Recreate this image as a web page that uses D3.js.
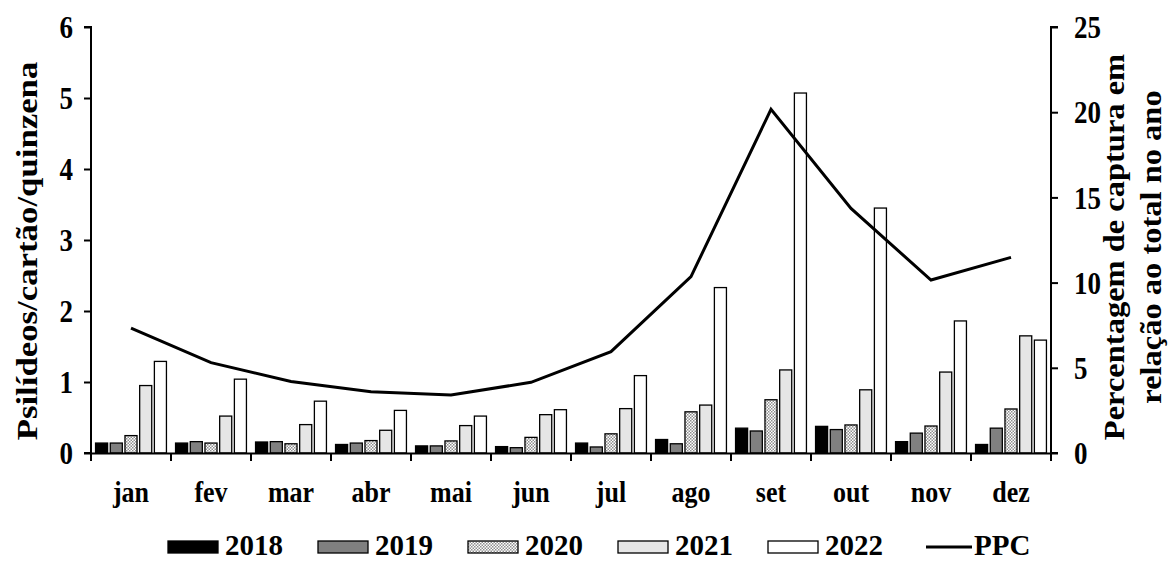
<!DOCTYPE html>
<html><head><meta charset="utf-8">
<script src="https://cdn.jsdelivr.net/npm/d3@7"></script>
<style>
html,body{margin:0;padding:0;background:#fff;}
text{font-family:"Liberation Serif","Times New Roman",serif;font-weight:bold;fill:#000;}
</style></head>
<body><svg id="chart" width="1176" height="563"></svg>
<script>
const months = ["jan","fev","mar","abr","mai","jun","jul","ago","set","out","nov","dez"];
const years = ["2018","2019","2020","2021","2022"];
const v2018 = [0.14,0.14,0.155,0.12,0.10,0.09,0.14,0.19,0.35,0.375,0.16,0.12];
const v2019 = [0.14,0.16,0.16,0.14,0.10,0.075,0.085,0.13,0.31,0.33,0.28,0.35];
const v2020 = [0.245,0.14,0.13,0.175,0.17,0.22,0.27,0.58,0.75,0.395,0.38,0.62];
const v2021 = [0.95,0.52,0.40,0.32,0.386,0.54,0.625,0.675,1.17,0.89,1.14,1.65];
const v2022 = [1.29,1.04,0.73,0.60,0.52,0.61,1.09,2.33,5.07,3.45,1.86,1.59];
const ppc = [7.33,5.3,4.2,3.6,3.4,4.15,5.95,10.35,20.17,14.35,10.15,11.48];
const leftTicks = [0,1,2,3,4,5,6];
const rightTicks = [0,5,10,15,20,25];
const seriesVals = {"2018":v2018,"2019":v2019,"2020":v2020,"2021":v2021,"2022":v2022};

const SY = 1.17; // vertical stretch of the text glyphs

const svg = d3.select("#chart");
const defs = svg.append("defs");
const pat = defs.append("pattern").attr("id","chk").attr("patternUnits","userSpaceOnUse")
  .attr("width",3).attr("height",3);
pat.append("rect").attr("width",3).attr("height",3).attr("fill","#ffffff");
pat.append("rect").attr("x",0).attr("y",0).attr("width",1.5).attr("height",1.5).attr("fill","#8f8f8f");
pat.append("rect").attr("x",1.5).attr("y",1.5).attr("width",1.5).attr("height",1.5).attr("fill","#8f8f8f");

const fills = {"2018":"#000000","2019":"#808080","2020":"url(#chk)","2021":"#e6e6e6","2022":"#ffffff"};

const L = 91, R = 1051, T = 27, B = 453;
const x = d3.scaleBand().domain(months).range([L,R]).padding(0);
const x1 = d3.scaleBand().domain(years).range([0,x.bandwidth()]).paddingInner(0.18).paddingOuter(0.31);
const yL = d3.scaleLinear().domain([0,6]).range([B,T]);
const yR = d3.scaleLinear().domain([0,25]).range([B,T]);

// bars
years.forEach(yr => {
  svg.append("g").selectAll("rect").data(months).join("rect")
    .attr("x", (m)=> x(m)+x1(yr))
    .attr("y", (m,i)=> yL(seriesVals[yr][i]))
    .attr("width", x1.bandwidth())
    .attr("height", (m,i)=> B - yL(seriesVals[yr][i]))
    .attr("fill", fills[yr]).attr("stroke","#000").attr("stroke-width",1.3);
});

// line
const line = d3.line().x((d,i)=> x(months[i]) + x.bandwidth()/2).y(d=> yR(d));
svg.append("path").datum(ppc).attr("d",line).attr("fill","none").attr("stroke","#000").attr("stroke-width",3).attr("stroke-linejoin","miter");

// axes
const axL = svg.append("g").attr("transform",`translate(${L},0)`)
  .call(d3.axisLeft(yL).tickValues(leftTicks).tickSize(7).tickPadding(11).tickFormat(d3.format("d")));
const axR = svg.append("g").attr("transform",`translate(${R},0)`)
  .call(d3.axisRight(yR).tickValues(rightTicks).tickSize(7).tickPadding(16).tickFormat(d3.format("d")));
const axB = svg.append("g").attr("transform",`translate(0,${B})`)
  .call(d3.axisBottom(x).tickSize(0).tickPadding(0).tickFormat(""));
[axL,axR,axB].forEach(a=>{
  a.select(".domain").attr("stroke","#000").attr("stroke-width",2);
  a.selectAll(".tick line").attr("stroke","#000").attr("stroke-width",2);
  a.selectAll("text").attr("font-family",null).attr("font-size",null).style("font-size","27px").attr("fill","#000")
    .attr("dy",null).attr("y",0).attr("dominant-baseline",null)
    .attr("transform",`translate(0,${0.34*27*SY}) scale(1,${SY})`);
});
axL.select(".domain").attr("d",`M-7,${T}H0V${B}H-7`);
axR.select(".domain").attr("d",`M7,${T}H0V${B}H7`);
// x boundary ticks
svg.append("g").selectAll("line").data(d3.range(months.length+1)).join("line")
  .attr("x1", i=> L + i*x.bandwidth()).attr("x2", i=> L + i*x.bandwidth())
  .attr("y1", B).attr("y2", B+8).attr("stroke","#000").attr("stroke-width",2);
// month labels
svg.append("g").selectAll("text").data(months).join("text")
  .attr("transform", m=> `translate(${x(m)+x.bandwidth()/2},502) scale(1,${SY})`)
  .attr("text-anchor","middle")
  .style("font-size","26px").text(d=>d);

// titles
svg.append("text").attr("transform","translate(37,251) rotate(-90) scale(1.16,1)").attr("text-anchor","middle")
  .style("font-size","30px").text("Psilídeos/cartão/quinzena");
svg.append("text").attr("transform","translate(1124,247) rotate(-90) scale(1.14,1)").attr("text-anchor","middle")
  .style("font-size","28.5px").text("Percentagem de captura em");
svg.append("text").attr("transform","translate(1161,247) rotate(-90) scale(1.14,1)").attr("text-anchor","middle")
  .style("font-size","28.5px").text("relação ao total no ano");

// legend
const lg = svg.append("g");
years.forEach((yr,i)=>{
  const lx = 168 + i*150;
  lg.append("rect").attr("x",lx).attr("y",541).attr("width",50).attr("height",12)
    .attr("fill",fills[yr]).attr("stroke","#000").attr("stroke-width",1.3);
  lg.append("text").attr("transform",`translate(${lx+57},555) scale(1,1.05)`).style("font-size","29px").text(yr);
});
lg.append("line").attr("x1",926).attr("x2",972).attr("y1",547).attr("y2",547).attr("stroke","#000").attr("stroke-width",3);
lg.append("text").attr("transform","translate(974,555) scale(1,1.05)").style("font-size","29px").text("PPC");
</script></body></html>
